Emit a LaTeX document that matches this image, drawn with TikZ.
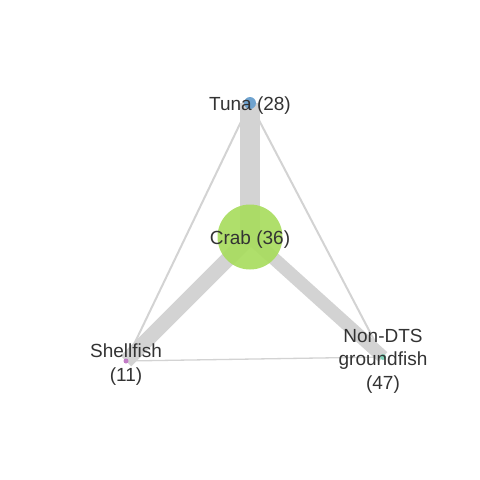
\documentclass[tikz,border=0pt]{standalone}
\usepackage{fontspec}
\setmainfont{Liberation Sans}
\definecolor{edgegray}{HTML}{D3D3D3}
\definecolor{tunablue}{HTML}{6FA3CF}
\definecolor{crabgreen}{HTML}{A8DC5E}
\definecolor{shellpink}{HTML}{C27BC6}
\definecolor{groundteal}{HTML}{7FD3B8}
\definecolor{labelgray}{HTML}{333333}
\begin{document}
\begin{tikzpicture}[x=1pt, y=-1pt, line join=round,
    dot/.style={circle, inner sep=0pt, minimum size=#1},
    link/.style={draw=edgegray, line width=#1},
    lab/.style={text=labelgray, font=\fontsize{19}{23.5}\selectfont, align=center, yshift=-2.5pt}]
    \useasboundingbox (0,0) rectangle (480,480);
    % nodes
    \coordinate (tuna) at (250,103);
    \coordinate (crab) at (250,237);
    \coordinate (shell) at (126,361);
    \coordinate (ground) at (383,357);
    % links
    \draw[link=2pt] (tuna) -- (shell);
    \draw[link=2pt] (tuna) -- (ground);
    \draw[link=1.3pt] (shell) -- (ground);
    \draw[link=20pt] (tuna) -- (crab);
    \draw[link=15pt] (crab) -- (shell);
    \draw[link=13pt] (crab) -- (ground);
    % circles
    \node[dot=12pt, fill=tunablue] (tunadot) at (tuna) {};
    \node[dot=65pt, fill=crabgreen, fill opacity=.92] (crabdot) at (crab) {};
    \node[dot=5pt, fill=shellpink] (shelldot) at (shell) {};
    \node[dot=6pt, fill=groundteal] (grounddot) at (ground) {};
    % labels
    \node[lab] (tunalab) at (tuna) {Tuna (28)};
    \node[lab] (crablab) at (crab) {Crab (36)};
    \node[lab] (shelllab) at (126,362) {Shellfish\\(11)};
    \node[lab] (groundlab) at (383,358.5) {Non-DTS\\groundfish\\(47)};
\end{tikzpicture}
\end{document}
